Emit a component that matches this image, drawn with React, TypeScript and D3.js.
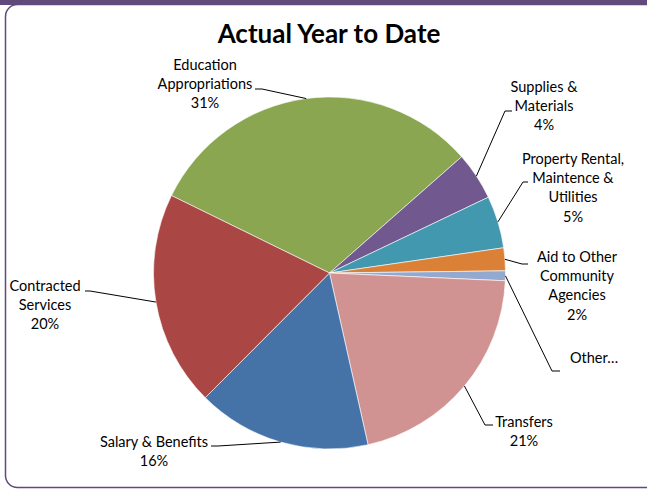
import * as d3 from "d3";

// slices in drawing order, clockwise starting from the Education wedge
const categories = [
  "Education Appropriations",
  "Supplies & Materials",
  "Property Rental, Maintence & Utilities",
  "Aid to Other Community Agencies",
  "Other...",
  "Transfers",
  "Salary & Benefits",
  "Contracted Services",
];
const shares = [31.3, 4.4, 4.8, 2.1, 0.9, 20.8, 16.0, 19.8];
const labelLines = [
  ["Education", "Appropriations"],
  ["Supplies &", "Materials"],
  ["Property Rental,", "Maintence &", "Utilities"],
  ["Aid to Other", "Community", "Agencies"],
  ["Other…"],
  ["Transfers"],
  ["Salary & Benefits"],
  ["Contracted", "Services"],
];
const showPercent = [true, true, true, true, false, true, true, true];
const colors = [
  "#8BA650",
  "#71588F",
  "#4198AF",
  "#DA8137",
  "#93A9CF",
  "#D19392",
  "#4572A7",
  "#AA4744",
];

// label layout: text centre x, first baseline, leader start x, leader elbow x, leader y
const labelLayout = [
  { cx: 205, y: 70, lx: 255, ex: 262, ly: 89 },
  { cx: 544, y: 92, lx: 512, ex: 505, ly: 111 },
  { cx: 573, y: 164, lx: 528, ex: 523, ly: 182 },
  { cx: 577, y: 262, lx: 528, ex: 522, ly: 264 },
  { cx: 594, y: 363, lx: 560, ex: 552, ly: 371 },
  { cx: 524, y: 427, lx: 493, ex: 485, ly: 425 },
  { cx: 154, y: 447, lx: 211, ex: 218, ly: 446 },
  { cx: 45, y: 291, lx: 85, ex: 90, ly: 291 },
];

const W = 647;
const H = 490;
const cx = 329.5;
const cy = 273;
const R = 176;
const startDeg = -63.9;
const font = "Lato, 'Open Sans', sans-serif";

export default function App() {
  const total = d3.sum(shares);
  const start = (startDeg * Math.PI) / 180;
  const pie = d3
    .pie<number>()
    .sort(null)
    .startAngle(start)
    .endAngle(start + 2 * Math.PI);
  const arcs = pie(shares);
  const arc = d3.arc<d3.PieArcDatum<number>>().innerRadius(0).outerRadius(R);
  const edge = d3.arc<d3.PieArcDatum<number>>().innerRadius(R).outerRadius(R);
  const pct = d3.format(".0%");
  const lineH = 19.2;

  return (
    <svg
      width={W}
      height={H}
      style={{ position: "absolute", left: 0, top: 0, background: "#fff" }}
      fontFamily={font}
    >
      <rect x={0} y={0} width={W} height={5} fill="#604A7B" />
      <rect
        x={5.5}
        y={4.5}
        width={W + 20}
        height={483}
        rx={12}
        fill="#fff"
        stroke="#604A7B"
        strokeWidth={1.5}
      />
      <text
        x={329}
        y={43}
        textAnchor="middle"
        fontSize={26}
        fontWeight="bold"
        fill="#000"
      >
        Actual Year to Date
      </text>
      <g transform={`translate(${cx},${cy})`}>
        {arcs.map((a, i) => (
          <path key={categories[i]} d={arc(a) ?? ""} fill={colors[i]} stroke="#fff" strokeWidth={0.6} />
        ))}
      </g>
      {arcs.map((a, i) => {
        const [px, py] = edge.centroid(a);
        const L = labelLayout[i];
        const lines = showPercent[i]
          ? [...labelLines[i], pct(shares[i] / total)]
          : labelLines[i];
        return (
          <g key={"l" + i}>
            <polyline
              points={`${L.lx},${L.ly} ${L.ex},${L.ly} ${cx + px},${cy + py}`}
              fill="none"
              stroke="#000"
              strokeWidth={1}
            />
            <text textAnchor="middle" fontSize={14.5} fill="#000">
              {lines.map((t, j) => (
                <tspan key={j} x={L.cx} y={L.y + j * lineH}>
                  {t}
                </tspan>
              ))}
            </text>
          </g>
        );
      })}
    </svg>
  );
}
